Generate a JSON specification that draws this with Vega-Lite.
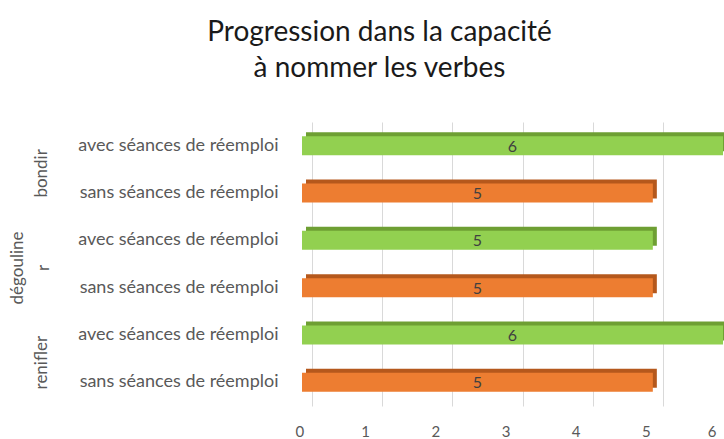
{
  "$schema": "https://vega.github.io/schema/vega-lite/v6.json",
  "width": 421,
  "height": 284,
  "autosize": {"type": "none"},
  "padding": {"left": 302, "top": 122, "right": 1, "bottom": 33},
  "background": "white",
  "config": {"view": {"stroke": null}, "font": "Lato"},
  "title": {
    "text": ["Progression dans la capacité", "à nommer les verbes"],
    "fontSize": 28,
    "fontWeight": "normal",
    "color": "#1a1a1a",
    "font": "Lato",
    "anchor": "middle",
    "dx": -133,
    "offset": 39,
    "lineHeight": 36
  },
  "data": {
    "values": [
      {"verbe": "bondir", "condition": "avec séances de réemploi", "cle": "bondir|avec séances de réemploi", "valeur": 6},
      {"verbe": "bondir", "condition": "sans séances de réemploi", "cle": "bondir|sans séances de réemploi", "valeur": 5},
      {"verbe": "dégouliner", "condition": "avec séances de réemploi", "cle": "dégouliner|avec séances de réemploi", "valeur": 5},
      {"verbe": "dégouliner", "condition": "sans séances de réemploi", "cle": "dégouliner|sans séances de réemploi", "valeur": 5},
      {"verbe": "renifler", "condition": "avec séances de réemploi", "cle": "renifler|avec séances de réemploi", "valeur": 6},
      {"verbe": "renifler", "condition": "sans séances de réemploi", "cle": "renifler|sans séances de réemploi", "valeur": 5}
    ]
  },
  "layer": [
    {
      "mark": {"type": "bar", "size": 19, "xOffset": 4, "yOffset": -4},
      "encoding": {
        "y": {
          "field": "cle", "type": "nominal", "sort": null,
          "axis": {
            "title": null, "domain": false, "ticks": false, "tickSize": 0,
            "labelExpr": "split(datum.value, '|')[1]",
            "labelPadding": 24, "labelFontSize": 18, "labelColor": "#595959",
            "labelLimit": 300, "labelFont": "Lato"
          }
        },
        "x": {
          "field": "valeur", "type": "quantitative",
          "scale": {"domain": [0, 6]},
          "axis": {
            "title": null, "values": [0, 1, 2, 3, 4, 5, 6], "grid": true,
            "gridColor": "#d9d9d9", "gridWidth": 1, "domain": false, "ticks": false, "tickSize": 0,
            "tickOffset": 10, "labelOffset": -17, "labelPadding": 18,
            "labelFontSize": 15, "labelColor": "#595959", "labelFont": "Lato"
          }
        },
        "color": {
          "field": "condition", "type": "nominal",
          "scale": {"domain": ["avec séances de réemploi", "sans séances de réemploi"], "range": ["#6e9f33", "#b5581c"]},
          "legend": null
        }
      }
    },
    {
      "mark": {"type": "bar", "size": 19},
      "encoding": {
        "y": {"field": "cle", "type": "nominal", "sort": null, "axis": null},
        "x": {"field": "valeur", "type": "quantitative", "scale": {"domain": [0, 6]}, "axis": null},
        "color": {
          "field": "condition", "type": "nominal",
          "scale": {"domain": ["avec séances de réemploi", "sans séances de réemploi"], "range": ["#92d050", "#ed7d31"]},
          "legend": null
        }
      }
    },
    {
      "mark": {"type": "text", "fontSize": 16, "color": "#404040", "font": "Lato", "dy": 1},
      "encoding": {
        "y": {"field": "cle", "type": "nominal", "sort": null, "axis": null},
        "x": {"field": "valeur", "type": "quantitative", "scale": {"domain": [0, 12]}, "axis": null},
        "text": {"field": "valeur", "type": "quantitative"}
      }
    },
    {
      "mark": {"type": "bar", "opacity": 0},
      "encoding": {
        "y": {
          "field": "verbe", "type": "nominal", "sort": null,
          "axis": {
            "orient": "left", "title": null, "domain": false, "ticks": false, "tickSize": 0,
            "offset": 252,
            "labelPadding": {"condition": {"test": "datum.value == 'dégouliner'", "value": 24}, "value": 0},
            "labelAngle": 270, "labelOffset": 4,
            "labelAlign": "center", "labelBaseline": "bottom",
            "labelExpr": "datum.value == 'dégouliner' ? ['dégouline', 'r'] : datum.value",
            "labelFontSize": 17, "labelColor": "#595959", "labelFont": "Lato", "labelLineHeight": 26
          }
        },
        "x": {"datum": 0, "type": "quantitative", "scale": {"domain": [0, 6]}, "axis": null}
      }
    }
  ],
  "resolve": {"scale": {"y": "independent", "x": "independent", "color": "independent"}}
}
